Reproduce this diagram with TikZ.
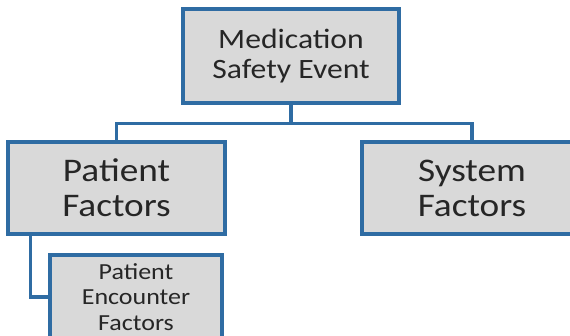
\documentclass[tikz,border=0pt]{standalone}
\usepackage{fontspec}
\setmainfont{Carlito}[FakeStretch=1.13]
\definecolor{boxblue}{HTML}{2F6CA3}
\definecolor{boxgrey}{HTML}{D9D9D9}
\begin{document}
\begin{tikzpicture}[x=1pt,y=-1pt,
  box/.style={draw=boxblue, line width=3.2pt, fill=boxgrey, inner sep=0pt, align=center, text=black!85},
  conn/.style={draw=boxblue, line width=3.2pt}]
\useasboundingbox (0,0) rectangle (570,335);
\clip (0,0) rectangle (570,335);
\node[box, minimum width=216pt, minimum height=94pt, font=\fontsize{28}{30}\selectfont] (mse) at (291,56) {Medication\\Safety Event};
\node[box, minimum width=217pt, minimum height=92pt, font=\fontsize{33}{35}\selectfont] (pf) at (116.5,188) {Patient\\Factors};
\node[box, minimum width=220pt, minimum height=92pt, font=\fontsize{33}{35}\selectfont] (sf) at (472,188) {System\\Factors};
\node[box, minimum width=172pt, minimum height=84pt, font=\fontsize{23}{25.5}\selectfont] (enc) at (136,297) {Patient\\Encounter\\Factors};
\draw[conn] (mse.south) -- ++(0,19) coordinate (mid) -| (pf.north);
\draw[conn] (mid) -| (sf.north);
\draw[conn] ([xshift=24pt]pf.south west) |- (enc.west);
\end{tikzpicture}
\end{document}
